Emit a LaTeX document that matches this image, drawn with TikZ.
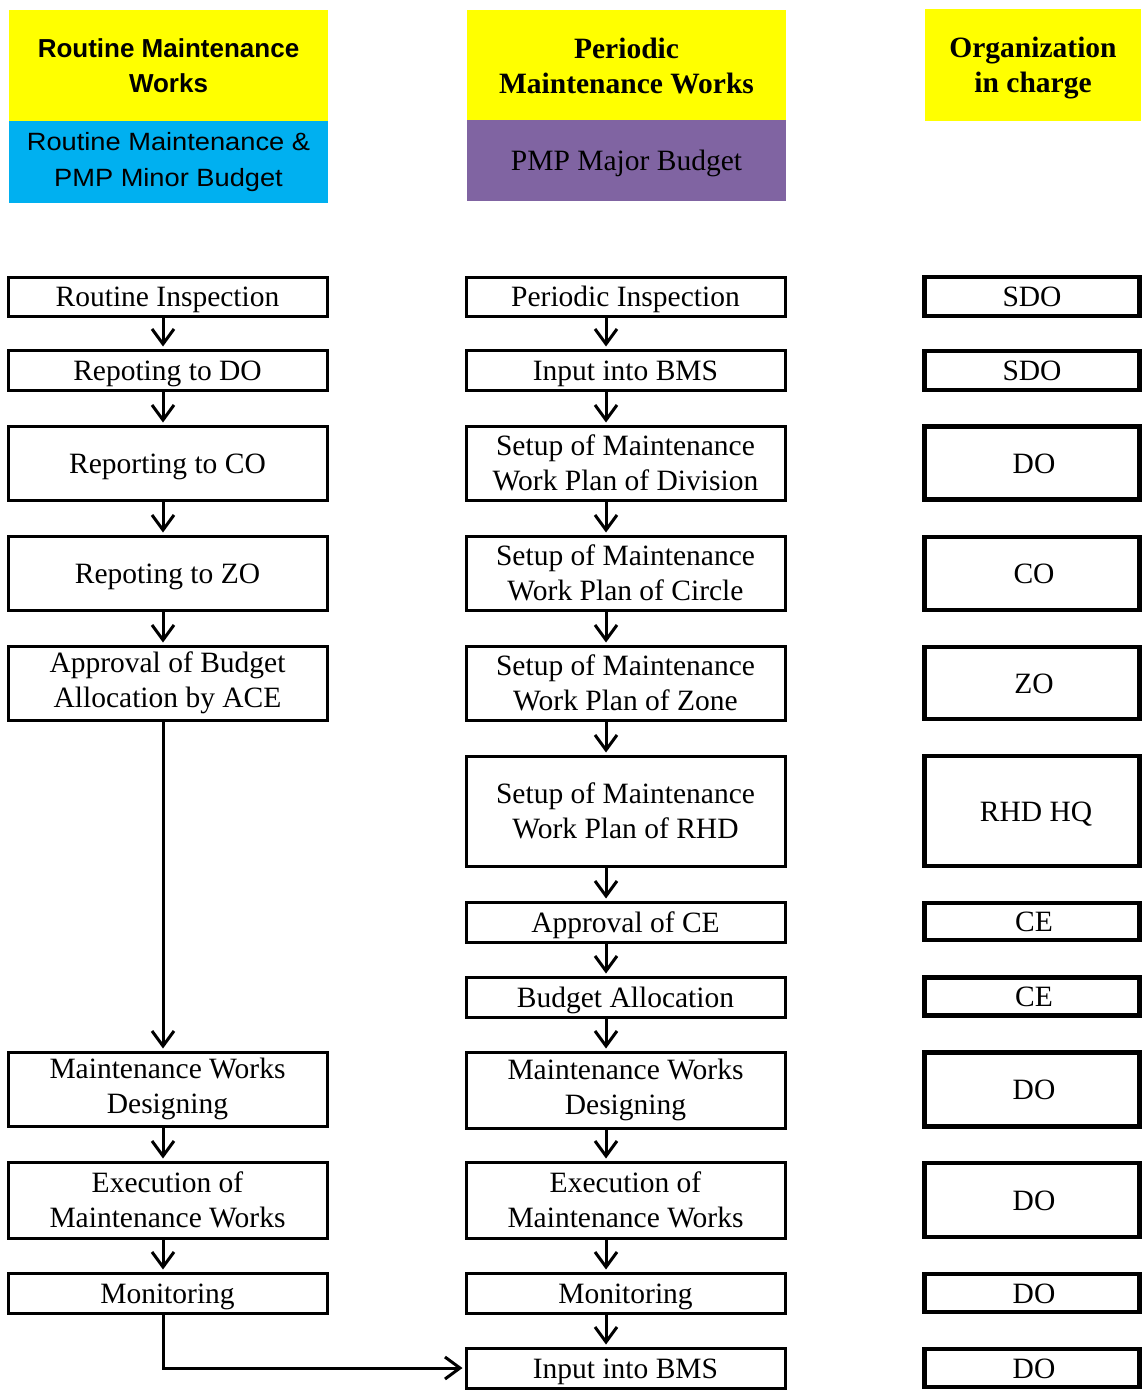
\documentclass[tikz,border=0pt]{standalone}
\usepackage{fontspec}
\setmainfont{Liberation Serif}
\newfontfamily\hdsans{Liberation Sans}
\newfontfamily\hdsanswide[FakeStretch=1.09]{Liberation Sans}
\usetikzlibrary{arrows.meta}
\definecolor{hyellow}{HTML}{FFFF00}
\definecolor{hblue}{HTML}{00B0F0}
\definecolor{hpurple}{HTML}{8064A2}
\begin{document}
\begin{tikzpicture}[x=1pt,y=-1pt,
  box/.style={draw, line width=3pt, inner sep=0pt, minimum width=319pt, align=center, font=\fontsize{29.5}{35}\selectfont},
  obox/.style={draw, line width=4.5pt, inner sep=0pt, minimum width=215pt, align=center, font=\fontsize{29.5}{35}\selectfont},
  one/.style={text height=20.5pt, text depth=0pt},
  hdr/.style={inner sep=0pt, align=center},
  arr/.style={line width=3pt, shorten >=2pt, -{Straight Barb[length=15pt,width=22pt]}},
]
\useasboundingbox (0,0) rectangle (1144,1394);
% headers
\node[hdr, fill=hyellow, minimum width=319pt, minimum height=111pt, font=\hdsans\bfseries\fontsize{26}{35}\selectfont] (h1) at (168.5,65.5) {Routine Maintenance\\Works};
\node[hdr, fill=hblue, minimum width=319pt, minimum height=81pt, font=\hdsanswide\fontsize{25}{36}\selectfont] (h1b) at (168.5,162) {Routine Maintenance \&\\PMP Minor Budget};
\node[hdr, fill=hyellow, minimum width=319pt, minimum height=111pt, font=\bfseries\fontsize{29.5}{35}\selectfont] (h2) at (626.5,65.5) {Periodic\\Maintenance Works};
\node[hdr, fill=hpurple, minimum width=319pt, minimum height=81pt, font=\fontsize{29.5}{35}\selectfont, one] (h2b) at (626.5,160.5) {PMP Major Budget};
\node[hdr, fill=hyellow, minimum width=216pt, minimum height=112pt] (h3) at (1033,65) {};
\node[hdr, font=\bfseries\fontsize{29.5}{35}\selectfont, yshift=-3pt] (h3t) at (h3.center) {Organization\\in charge};
% arrow columns
\coordinate (LA) at (163,0);
\coordinate (MA) at (606,0);
% left column
\node[box, one, minimum height=39pt] (l1) at (167.5,296.5) {Routine Inspection};
\node[box, one, minimum height=40pt] (l2) at (167.5,370) {Repoting to DO};
\node[box, one, minimum height=74pt] (l3) at (167.5,463) {Reporting to CO};
\node[box, one, minimum height=74pt] (l4) at (167.5,573) {Repoting to ZO};
\node[box, minimum height=74pt] (l5) at (167.5,683) {Approval of Budget\\Allocation by ACE};
\node[box, minimum height=74pt] (l9) at (167.5,1089) {Maintenance Works\\Designing};
\node[box, minimum height=76pt] (l10) at (167.5,1200) {Execution of\\Maintenance Works};
\node[box, one, minimum height=40pt] (l11) at (167.5,1293) {Monitoring};
% middle column
\node[box, one, minimum height=39pt] (m1) at (625.5,296.5) {Periodic Inspection};
\node[box, one, minimum height=40pt] (m2) at (625.5,370) {Input into BMS};
\node[box, minimum height=74pt] (m3) at (625.5,463) {Setup of Maintenance\\Work Plan of Division};
\node[box, minimum height=74pt] (m4) at (625.5,573) {Setup of Maintenance\\Work Plan of Circle};
\node[box, minimum height=74pt] (m5) at (625.5,683) {Setup of Maintenance\\Work Plan of Zone};
\node[box, minimum height=110pt] (m6) at (625.5,811) {Setup of Maintenance\\Work Plan of RHD};
\node[box, one, minimum height=40pt] (m7) at (625.5,922) {Approval of CE};
\node[box, one, minimum height=40pt] (m8) at (625.5,997) {Budget Allocation};
\node[box, minimum height=76pt] (m9) at (625.5,1090) {Maintenance Works\\Designing};
\node[box, minimum height=76pt] (m10) at (625.5,1200) {Execution of\\Maintenance Works};
\node[box, one, minimum height=40pt] (m11) at (625.5,1293) {Monitoring};
\node[box, one, minimum height=40pt] (m12) at (625.5,1368) {Input into BMS};
% right column
\node[obox, one, minimum height=39pt] (o1) at (1032,296.5) {SDO};
\node[obox, one, minimum height=39pt] (o2) at (1032,370.5) {SDO};
\node[obox, one, minimum height=73pt] (o3) at (1032,463) {\hspace{4pt}DO};
\node[obox, one, minimum height=73pt] (o4) at (1032,573.5) {\hspace{4pt}CO};
\node[obox, one, minimum height=72pt] (o5) at (1032,683) {\hspace{4pt}ZO};
\node[obox, one, minimum height=110pt] (o6) at (1032,811) {\hspace{8pt}RHD HQ};
\node[obox, one, minimum height=37pt] (o7) at (1032,921.5) {\hspace{4pt}CE};
\node[obox, one, minimum height=38pt] (o8) at (1032,996.5) {\hspace{4pt}CE};
\node[obox, one, minimum height=74pt] (o9) at (1032,1089.5) {\hspace{4pt}DO};
\node[obox, one, minimum height=74pt] (o10) at (1032,1200) {\hspace{4pt}DO};
\node[obox, one, minimum height=38pt] (o11) at (1032,1293) {\hspace{4pt}DO};
\node[obox, one, minimum height=38pt] (o12) at (1032,1368) {\hspace{4pt}DO};
% left arrows
\draw[arr] (l1.south -| LA) -- (l2.north -| LA);
\draw[arr] (l2.south -| LA) -- (l3.north -| LA);
\draw[arr] (l3.south -| LA) -- (l4.north -| LA);
\draw[arr] (l4.south -| LA) -- (l5.north -| LA);
\draw[arr] (l5.south -| LA) -- (l9.north -| LA);
\draw[arr] (l9.south -| LA) -- (l10.north -| LA);
\draw[arr] (l10.south -| LA) -- (l11.north -| LA);
\draw[arr] (l11.south -| LA) |- (m12.west);
% middle arrows
\draw[arr] (m1.south -| MA) -- (m2.north -| MA);
\draw[arr] (m2.south -| MA) -- (m3.north -| MA);
\draw[arr] (m3.south -| MA) -- (m4.north -| MA);
\draw[arr] (m4.south -| MA) -- (m5.north -| MA);
\draw[arr] (m5.south -| MA) -- (m6.north -| MA);
\draw[arr] (m6.south -| MA) -- (m7.north -| MA);
\draw[arr] (m7.south -| MA) -- (m8.north -| MA);
\draw[arr] (m8.south -| MA) -- (m9.north -| MA);
\draw[arr] (m9.south -| MA) -- (m10.north -| MA);
\draw[arr] (m10.south -| MA) -- (m11.north -| MA);
\draw[arr] (m11.south -| MA) -- (m12.north -| MA);
\end{tikzpicture}
\end{document}
